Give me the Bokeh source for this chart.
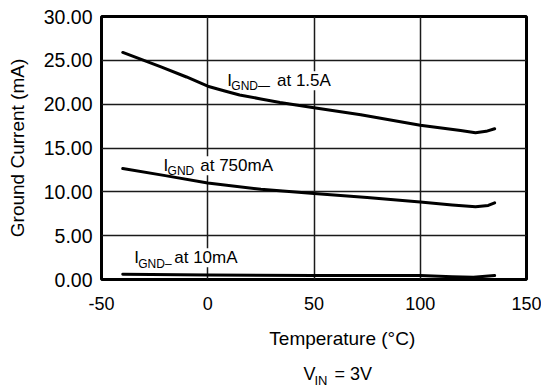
import numpy as np
from bokeh.plotting import figure
from bokeh.layouts import column
from bokeh.models import Label, FixedTicker, PrintfTickFormatter, Range1d
from bokeh.embed import file_html
from bokeh.resources import INLINE

# ---- data ----
x_15a = [-40, -22, -10, 0, 8, 15, 25, 34, 50, 72, 100, 119, 126, 131, 135]
y_15a = [25.9, 24.25, 23.1, 22.05, 21.5, 21.05, 20.6, 20.2, 19.6, 18.8, 17.6, 17.0, 16.75, 16.9, 17.2]

x_750 = [-40, -20, 0, 25, 50, 75, 100, 115, 126, 132, 135]
y_750 = [12.65, 11.85, 11.0, 10.3, 9.8, 9.35, 8.85, 8.5, 8.3, 8.45, 8.75]

x_10 = [-40, 0, 50, 100, 115, 125, 135]
y_10 = [0.6, 0.5, 0.45, 0.45, 0.3, 0.25, 0.45]

x_ticks = [-50, 0, 50, 100, 150]
y_ticks = [0, 5, 10, 15, 20, 25, 30]

x_title = "Temperature (°C)"
y_title = "Ground Current (mA)"

FONT = "Liberation Sans"

W, H_MAIN, H_FOOT = 541, 318, 70
FOOT_TOP = H_MAIN

p = figure(width=W, height=H_MAIN, output_backend="svg", toolbar_location=None,
           x_range=Range1d(-50, 150), y_range=Range1d(0, 30),
           min_border_left=101, min_border_right=15, min_border_top=16, min_border_bottom=39)

p.background_fill_color = "white"
p.border_fill_color = "white"
p.outline_line_color = "black"
p.outline_line_width = 3

for ax in (p.xaxis[0], p.yaxis[0]):
    ax.axis_line_color = None
    ax.major_tick_line_color = None
    ax.minor_tick_line_color = None
    ax.major_tick_out = 0
    ax.major_label_text_font = FONT
    ax.major_label_text_color = "black"

p.xaxis.major_label_text_font_size = "18px"
p.yaxis.major_label_text_font_size = "19.5px"
p.xaxis.ticker = FixedTicker(ticks=x_ticks)
p.yaxis.ticker = FixedTicker(ticks=y_ticks)
p.yaxis.formatter = PrintfTickFormatter(format="%.2f")
p.xaxis.major_label_overrides = {t: str(t) for t in x_ticks}
p.xaxis.major_label_standoff = 17
p.yaxis.major_label_standoff = 9

p.yaxis.axis_label = y_title
p.yaxis.axis_label_text_font = FONT
p.yaxis.axis_label_text_font_size = "19px"
p.yaxis.axis_label_text_font_style = "normal"
p.yaxis.axis_label_text_color = "black"
p.yaxis.axis_label_standoff = 13

p.xgrid.ticker = FixedTicker(ticks=x_ticks)
p.ygrid.ticker = FixedTicker(ticks=y_ticks)
p.grid.grid_line_color = "#1a1a1a"
p.grid.grid_line_width = 1.5

# curves
for xs, ys in ((x_15a, y_15a), (x_750, y_750), (x_10, y_10)):
    p.line(xs, ys, line_color="black", line_width=3, line_join="round", line_cap="round")


def txt(fig, x, y, text, size, dx=0, dy=0, bg=None, align="left"):
    lab = Label(x=x, y=y, x_offset=dx, y_offset=dy, text=text,
                text_font=FONT, text_font_size=size, text_color="black",
                text_align=align, text_baseline="middle")
    if bg:
        lab.background_fill_color = bg
    fig.add_layout(lab)


# curve labels (anchor = vertical middle of the main text)
def curve_label(x, y, sub, rest, rest_dx, sub_dy=-5.1):
    txt(p, x, y, "I", "17px")
    txt(p, x, y, sub, "12px", dx=4, dy=sub_dy)
    txt(p, x, y, rest, "17px", dx=rest_dx, bg="white")


curve_label(9.2, 22.66, "GND\u2014", "at 1.5A", 49.7)
curve_label(-20.8, 12.98, "GND", "at 750mA", 36.7)
curve_label(-34.6, 2.47, "GND\u2013", "at 10mA", 40, sub_dy=-5.8)

# footer: x-axis title and test condition (page-pixel coordinates)
f = figure(width=W, height=H_FOOT, output_backend="svg", toolbar_location=None,
           x_range=Range1d(0, W), y_range=Range1d(FOOT_TOP + H_FOOT, FOOT_TOP),
           x_axis_type=None, y_axis_type=None, min_border=0)
f.outline_line_color = None
f.background_fill_color = "white"
f.border_fill_color = "white"

txt(f, 306.5, 338.3, x_title, "19px", align="center")
txt(f, 257, 373.7, "V", "18px")
txt(f, 271, 379.5, "IN", "13px")
txt(f, 296.7, 373.7, "= 3V", "18px")

layout = column(p, f, spacing=0)
open("out.html", "w").write(file_html(layout, INLINE))
